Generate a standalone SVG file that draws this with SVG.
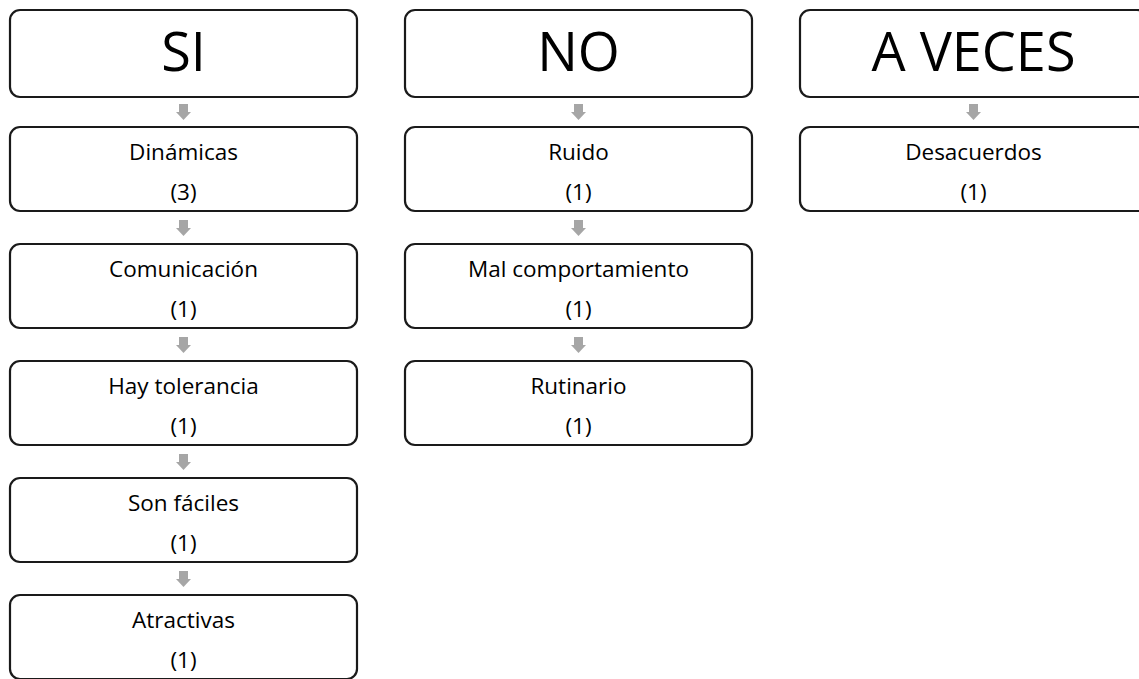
<svg xmlns="http://www.w3.org/2000/svg" width="1139" height="679" viewBox="0 0 1139 679">
<defs>
<style>
.box{fill:#ffffff;stroke:#1a1a1a;stroke-width:2.2}
.hd{font-family:"Open Sans","Noto Sans",sans-serif;font-size:54px;fill:#000;text-anchor:middle}
.t{font-family:"Open Sans","Noto Sans",sans-serif;font-size:22.5px;fill:#000;text-anchor:middle}
.arr{fill:#a6a6a6}
</style>
<path id="ar" d="M-4.5,0 H4.5 V8 H7.5 L0,16 L-7.5,8 H-4.5 Z"/>
</defs>
<rect width="1139" height="679" fill="#ffffff"/>
<g id="connectors" class="arr">
<use href="#ar" x="183.5" y="104"/>
<use href="#ar" x="183.5" y="220"/>
<use href="#ar" x="183.5" y="337"/>
<use href="#ar" x="183.5" y="454"/>
<use href="#ar" x="183.5" y="571"/>
<use href="#ar" x="578.5" y="104"/>
<use href="#ar" x="578.5" y="220"/>
<use href="#ar" x="578.5" y="337"/>
<use href="#ar" x="973.5" y="104"/>
</g>
<g id="si"><rect class="box" x="10" y="10" width="347" height="87" rx="10"/><text class="hd" x="183.5" y="71">SI</text></g>
<g id="dinamicas"><rect class="box" x="10" y="127" width="347" height="84" rx="10"/><text class="t" x="183.5" y="160">Dinámicas</text><text class="t" x="183.5" y="200">(3)</text></g>
<g id="comunicacion"><rect class="box" x="10" y="244" width="347" height="84" rx="10"/><text class="t" x="183.5" y="277">Comunicación</text><text class="t" x="183.5" y="317">(1)</text></g>
<g id="tolerancia"><rect class="box" x="10" y="361" width="347" height="84" rx="10"/><text class="t" x="183.5" y="394">Hay tolerancia</text><text class="t" x="183.5" y="434">(1)</text></g>
<g id="faciles"><rect class="box" x="10" y="478" width="347" height="84" rx="10"/><text class="t" x="183.5" y="511">Son fáciles</text><text class="t" x="183.5" y="551">(1)</text></g>
<g id="atractivas"><rect class="box" x="10" y="595" width="347" height="84" rx="10"/><text class="t" x="183.5" y="628">Atractivas</text><text class="t" x="183.5" y="668">(1)</text></g>
<g id="no"><rect class="box" x="405" y="10" width="347" height="87" rx="10"/><text class="hd" x="578.5" y="71">NO</text></g>
<g id="ruido"><rect class="box" x="405" y="127" width="347" height="84" rx="10"/><text class="t" x="578.5" y="160">Ruido</text><text class="t" x="578.5" y="200">(1)</text></g>
<g id="mal"><rect class="box" x="405" y="244" width="347" height="84" rx="10"/><text class="t" x="578.5" y="277">Mal comportamiento</text><text class="t" x="578.5" y="317">(1)</text></g>
<g id="rutinario"><rect class="box" x="405" y="361" width="347" height="84" rx="10"/><text class="t" x="578.5" y="394">Rutinario</text><text class="t" x="578.5" y="434">(1)</text></g>
<g id="aveces"><rect class="box" x="800" y="10" width="347" height="87" rx="10"/><text class="hd" x="973.5" y="71">A VECES</text></g>
<g id="desacuerdos"><rect class="box" x="800" y="127" width="347" height="84" rx="10"/><text class="t" x="973.5" y="160">Desacuerdos</text><text class="t" x="973.5" y="200">(1)</text></g>
</svg>
